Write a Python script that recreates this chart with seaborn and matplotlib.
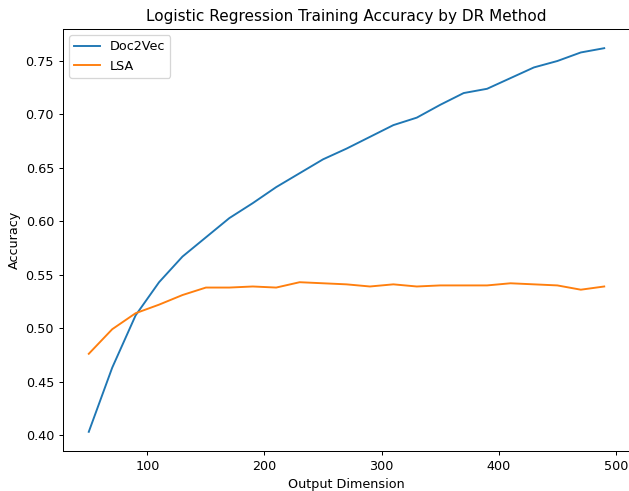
import pandas as pd
import numpy as np
import matplotlib
matplotlib.use('Agg')
import matplotlib.pyplot as plt
import seaborn as sns

# Dimensoes de saida (eixo x)
dimensoes = [50, 70, 90, 110, 130, 150, 170, 190, 210, 230, 250, 270,
             290, 310, 330, 350, 370, 390, 410, 430, 450, 470, 490]

# Acuracia de treino por metodo
acc_doc2vec = [0.403, 0.463, 0.512, 0.543, 0.567, 0.585, 0.603, 0.617, 0.632, 0.645, 0.658, 0.668,
               0.679, 0.690, 0.697, 0.709, 0.720, 0.724, 0.734, 0.744, 0.750, 0.758, 0.762]
acc_lsa = [0.476, 0.499, 0.514, 0.522, 0.531, 0.538, 0.538, 0.539, 0.538, 0.543, 0.542, 0.541,
           0.539, 0.541, 0.539, 0.540, 0.540, 0.540, 0.542, 0.541, 0.540, 0.536, 0.539]

metodos = ['Doc2Vec', 'LSA']

df = pd.DataFrame({
    'dim': dimensoes * 2,
    'acc': acc_doc2vec + acc_lsa,
    'metodo': [metodos[0]] * len(dimensoes) + [metodos[1]] * len(dimensoes),
})

# a figura original parece reduzida (~0.915), entao uso dpi menor
DPI = 91.5
fig = plt.figure(figsize=(629 / DPI, 491 / DPI), dpi=DPI)
# eixo um pouco cortado a direita, como na figura original
ax = fig.add_axes([63 / 629, 40 / 491, 567 / 629, 422 / 491])
sns.lineplot(data=df, x='dim', y='acc', hue='metodo', palette=['#1f77b4', '#ff7f0e'], ax=ax)
ax.set_title('Logistic Regression Training Accuracy by DR Method')
ax.set_xlabel('Output Dimension')
ax.set_ylabel('Accuracy')
ax.legend(loc='upper left')
fig.savefig('out.png', dpi=DPI)
